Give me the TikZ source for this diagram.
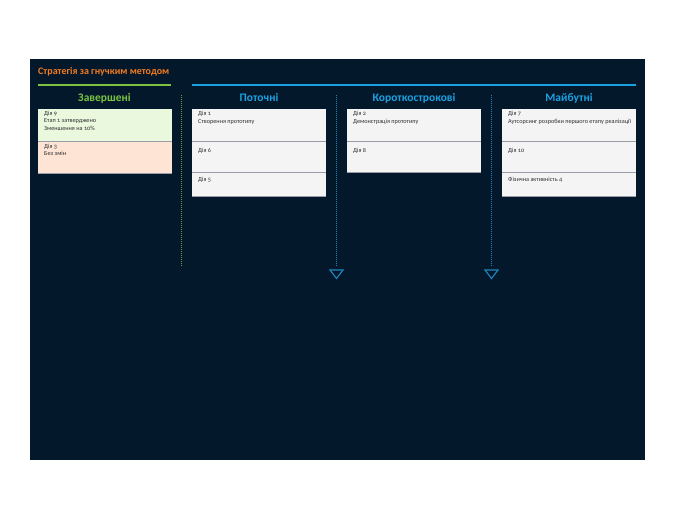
\documentclass[tikz,border=0pt]{standalone}
\usepackage{fontspec}
\setmainfont{Carlito}[Numbers=OldStyle]
\definecolor{panel}{HTML}{03192B}
\definecolor{orangeT}{HTML}{F47B20}
\definecolor{greenL}{HTML}{7CC242}
\definecolor{blueL}{HTML}{1BA1E2}
\definecolor{blueD}{HTML}{2285C0}
\definecolor{greenD}{HTML}{62A532}
\definecolor{cardG}{HTML}{EAF8DE}
\definecolor{cardP}{HTML}{FDE4D4}
\definecolor{cardW}{HTML}{F4F4F4}
\definecolor{sepC}{HTML}{9A9CA8}
\definecolor{txt}{HTML}{303030}
\tikzset{
  card/.style={anchor=north west, inner sep=0pt, minimum width=134pt, draw=none},
  cardtext/.style={anchor=north west, inner sep=0pt, align=left, text=txt,
    font=\fontsize{6.2}{7.3}\selectfont},
  header/.style={anchor=center, inner sep=0pt, text=blueL, font=\fontsize{11.5}{13}\selectfont\bfseries},
  divider/.style={dash pattern=on 1pt off 1pt, line width=1pt},
  sepline/.style={sepC, line width=1.6pt},
  tri/.style={draw=blueD, line width=1.1pt, line join=miter}
}
\begin{document}
\begin{tikzpicture}[x=1pt,y=-1pt]
\useasboundingbox (0,0) rectangle (675,520);
\fill[white] (0,0) rectangle (675,520);
\fill[panel] (30,59) rectangle (645,460);
% title
\node[anchor=west, inner sep=0pt, text=orangeT, font=\fontsize{10}{11}\selectfont\bfseries] (title) at (38,72) {Стратегія за гнучким методом};
\draw[greenL, line width=1.8pt] (38,85) -- (171,85);
\draw[blueL, line width=1.8pt] (192,85) -- (636,85);
% headers
\node[header, text=greenL] (h1) at (104.5,98) {Завершені};
\node[header] (h2) at (259,98) {Поточні};
\node[header] (h3) at (414,98) {Короткострокові};
\node[header] (h4) at (569,98) {Майбутні};
% dividers
\coordinate (d1t) at (181.5,95); \coordinate (d1b) at (181.5,266);
\coordinate (d2t) at (336.5,95); \coordinate (d2b) at (336.5,267);
\coordinate (d3t) at (491.5,95); \coordinate (d3b) at (491.5,267);
\draw[divider, greenD] (d1t) -- (d1b);
\draw[divider, blueD] (d2t) -- (d2b);
\draw[divider, blueD] (d3t) -- (d3b);
\draw[tri] (330,270) -- (343,270) -- (336.5,278.5) -- cycle;
\draw[tri] (485,270) -- (498,270) -- (491.5,278.5) -- cycle;
% column 1
\node[card, fill=cardG, minimum height=32pt] (a1) at (38,109) {};
\node[card, fill=cardP, minimum height=31pt] (a2) at (38,141.5) {};
\draw[sepline] (a1.south west) -- (a1.south east);
\draw[sepline, line width=0.8pt] (a2.south west) -- (a2.south east);
\node[cardtext] (a1t) at (44,111) {Дія 9\\Етап 1 затверджено\\Зменшення на 10\%};
\node[cardtext] (a2t) at (44,144) {Дія 3\\Без змін};
% column 2
\node[card, fill=cardW, minimum height=32pt] (b1) at (192,109) {};
\node[card, fill=cardW, minimum height=31pt] (b2) at (192,141) {};
\node[card, fill=cardW, minimum height=24pt] (b3) at (192,172) {};
\draw[sepline] (b1.south west) -- (b1.south east);
\draw[sepline] (b2.south west) -- (b2.south east);
\draw[sepline, line width=0.8pt] (b3.south west) -- (b3.south east);
\node[cardtext] (b1t) at (198,111.5) {Дія 1\\Створення прототипу};
\node[cardtext] (b2t) at (198,148) {Дія 6};
\node[cardtext] (b3t) at (198,177) {Дія 5};
% column 3
\node[card, fill=cardW, minimum height=32pt] (c1) at (347,109) {};
\node[card, fill=cardW, minimum height=31pt] (c2) at (347,141) {};
\draw[sepline] (c1.south west) -- (c1.south east);
\draw[sepline, line width=0.8pt] (c2.south west) -- (c2.south east);
\node[cardtext] (c1t) at (353,111.5) {Дія 2\\Демонстрація прототипу};
\node[cardtext] (c2t) at (353,148) {Дія 8};
% column 4
\node[card, fill=cardW, minimum height=32pt] (e1) at (502,109) {};
\node[card, fill=cardW, minimum height=31pt] (e2) at (502,141) {};
\node[card, fill=cardW, minimum height=24pt] (e3) at (502,172) {};
\draw[sepline] (e1.south west) -- (e1.south east);
\draw[sepline] (e2.south west) -- (e2.south east);
\draw[sepline, line width=0.8pt] (e3.south west) -- (e3.south east);
\node[cardtext] (e1t) at (508,111.5) {Дія 7\\Аутсорсинг розробки першого етапу реалізації};
\node[cardtext] (e2t) at (508,148) {Дія 10};
\node[cardtext] (e3t) at (508,177) {Фізична активність 4};
\end{tikzpicture}
\end{document}
